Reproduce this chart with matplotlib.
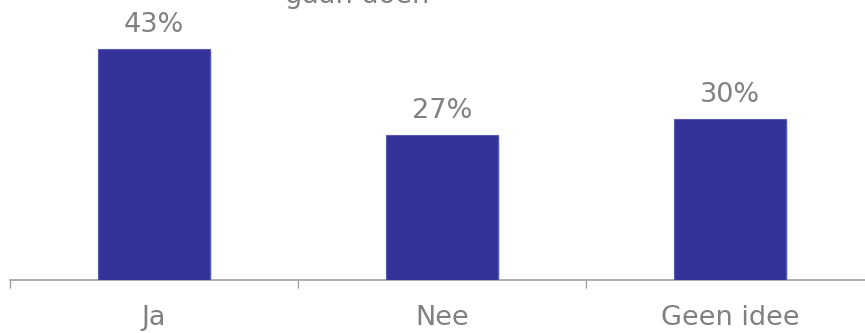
import matplotlib
matplotlib.use("Agg")
import matplotlib.pyplot as plt
import matplotlib.patheffects as pe

categories = ["Ja", "Nee", "Geen idee"]
percentages = [43, 27, 30]
title_tail = "gaan doen"

bar_color = "#333399"
text_grey = "#808080"

fig = plt.figure(figsize=(8.65, 3.33), dpi=100)
# axis slot runs a little past the right edge of the canvas
ax = fig.add_axes([10 / 865, 53 / 333, 864 / 865, 268.5 / 333])

x = range(len(categories))
bars = ax.bar(x, percentages, width=0.39, color=bar_color,
              edgecolor="#5a5ab8", linewidth=0.8, zorder=3)
for b in bars:
    b.set_path_effects([pe.SimplePatchShadow(offset=(1.5, -1.5),
                                             shadow_rgbFace="#999999", alpha=0.35),
                        pe.Normal()])

for xi, v in zip(x, percentages):
    ax.annotate(f"{v}%", (xi, v), xytext=(0, 12), textcoords="offset points",
                ha="center", va="baseline", fontsize=19.5, color=text_grey)

ax.set_xlim(-0.5, 2.5)
ax.set_ylim(0, 50)
ax.set_xticks([-0.5, 0.5, 1.5, 2.5])
ax.set_xticklabels([])
ax.set_xticks(list(x), minor=True)
ax.set_xticklabels(categories, minor=True)
ax.tick_params(axis="x", which="major", length=6, width=1, color="#a0a0a0", direction="out")
ax.tick_params(axis="x", which="minor", length=0, pad=18, labelsize=19.5, labelcolor=text_grey)
ax.set_yticks([])
for side in ["top", "right", "left"]:
    ax.spines[side].set_visible(False)
ax.spines["bottom"].set_color("#a0a0a0")
ax.spines["bottom"].set_linewidth(1.2)

fig.text(357 / 865, 1 - 3 / 333, title_tail, ha="center", va="baseline",
         fontsize=19.5, color=text_grey)

fig.savefig("out.png", dpi=100)
